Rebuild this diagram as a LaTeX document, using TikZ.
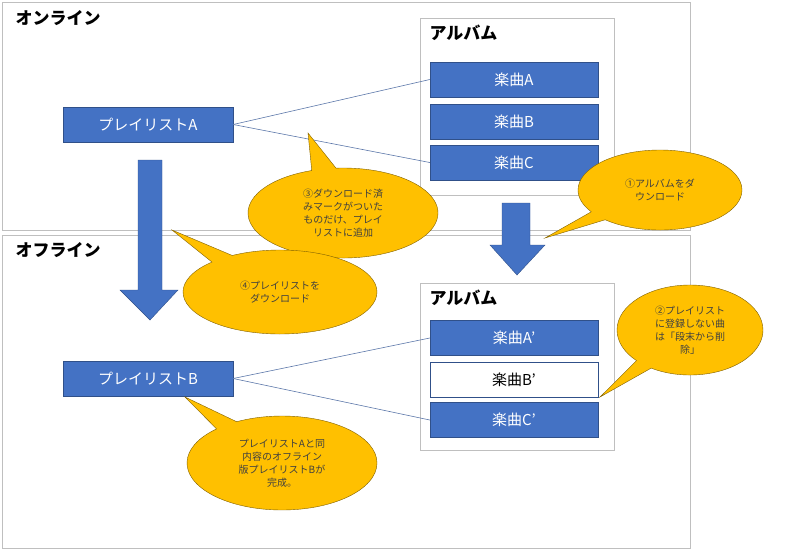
\documentclass[tikz,border=0pt]{standalone}
\usepackage{fontspec}
\setmainfont{Noto Sans CJK JP}
\usetikzlibrary{shapes.callouts}
\definecolor{bl}{HTML}{4472C4}
\definecolor{yl}{HTML}{FFC000}
\begin{document}
\begin{tikzpicture}[x=1pt,y=-1pt,
 frame/.style={draw=black!25,line width=0.8pt},
 song/.style={draw=bl!70!black,fill=bl,text=white,minimum width=168pt,minimum height=35pt,font=\fontsize{15}{15}\selectfont,inner sep=0},
 pl/.style={song,minimum width=170pt},
 ttl/.style={font=\fontsize{17}{17}\selectfont\bfseries,anchor=west},
 bigarrow/.style={fill=bl,draw=bl!70!black},
 link/.style={draw=bl!60!gray,line width=0.6pt},
 co/.style={ellipse callout,draw=yl!50!black,fill=yl,text=black!75,align=center,font=\fontsize{10}{13}\selectfont,inner sep=0}]
\useasboundingbox (0,0) rectangle (800,550);
\draw[frame] (2,2) rectangle (690,230);
\draw[frame] (2,235) rectangle (690,548);
\node[ttl] (on) at (12,18) {オンライン};
\node[ttl] (off) at (12,250) {オフライン};
\draw[frame] (420,18) rectangle (614,195);
\draw[frame] (420,283) rectangle (614,450);
\node[ttl] (al1) at (426,33) {アルバム};
\node[ttl] (al2) at (426,298) {アルバム};
\node[song] (sa) at (514,79.5) {楽曲A};
\node[song] (sb) at (514,121.5) {楽曲B};
\node[song] (sc) at (514,162.5) {楽曲C};
\node[song] (sa2) at (514,338) {楽曲A’};
\node[song,fill=white,text=black] (sb2) at (514,379.5) {楽曲B’};
\node[song] (sc2) at (514,420) {楽曲C’};
\node[pl] (pa) at (148,124.5) {プレイリストA};
\node[pl] (pb) at (148,378.5) {プレイリストB};
\draw[link] (pa.east) -- (sa.west);
\draw[link] (pa.east) -- (sc.west);
\draw[link] (pb.east) -- (sa2.west);
\draw[link] (pb.east) -- (sc2.west);
\draw[bigarrow] (138,160) -- (162,160) -- (162,290) -- (178,290) -- (150,320) -- (120,290) -- (138,290) -- cycle;
\draw[bigarrow] (502,203) -- (530,203) -- (530,245) -- (545,245) -- (517,275) -- (490,245) -- (502,245) -- cycle;
\coordinate (t3) at (308,133);
\coordinate (t1) at (545,238);
\coordinate (t4) at (172,230);
\coordinate (t2) at (600,397);
\coordinate (t5) at (185,397);
\node[co,minimum width=190pt,minimum height=90pt,callout absolute pointer={(t3)}] (c3) at (343,213) {③ダウンロード済\\みマークがついた\\ものだけ、プレイ\\リストに追加};
\node[co,minimum width=164pt,minimum height=80pt,callout absolute pointer={(t1)}] (c1) at (660,190) {①アルバムをダ\\ウンロード};
\node[co,minimum width=194pt,minimum height=84pt,callout absolute pointer={(t4)}] (c4) at (280,292) {④プレイリストを\\ダウンロード};
\node[co,minimum width=146pt,minimum height=90pt,callout absolute pointer={(t2)}] (c2) at (690,330) {②プレイリスト\\に登録しない曲\\は「段末から削\\除」};
\node[co,minimum width=190pt,minimum height=94pt,callout absolute pointer={(t5)}] (c5) at (282,463) {プレイリストAと同\\内容のオフライン\\版プレイリストBが\\完成。};
\end{tikzpicture}
\end{document}
